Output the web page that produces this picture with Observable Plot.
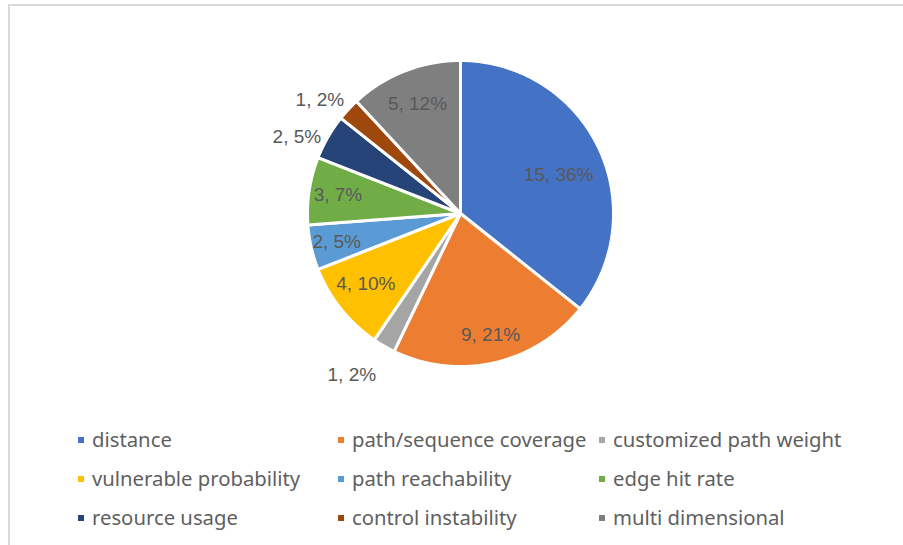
<!DOCTYPE html>
<html>
<head>
<meta charset="utf-8">
<script src="https://cdn.jsdelivr.net/npm/d3@7"></script>
<script src="https://cdn.jsdelivr.net/npm/@observablehq/plot@0.6"></script>
<style>
  html, body { margin: 0; padding: 0; background: #fff; }
  #wrap { position: relative; width: 903px; height: 545px; overflow: hidden; }
  #frame { position: absolute; left: 8px; top: 4px; width: 1000px; height: 1000px;
           border-top: 2px solid #d9d9d9; border-left: 2px solid #d9d9d9; box-sizing: border-box; }
  #chart { position: absolute; left: 0; top: 0; }
  .leg { position: absolute; height: 39px; line-height: 39px; font-family: "Noto Sans", sans-serif;
         font-size: 20.3px; color: #5f5f5f; white-space: nowrap; }
  .leg .sw { position: absolute; width: 6px; height: 6px; top: 17px; }
  .leg .tx { position: absolute; left: 14px; top: 0; }
</style>
</head>
<body>
<div id="wrap">
  <div id="frame"></div>
  <div id="chart"></div>
  <div id="legend"></div>
</div>
<script>
const categories = ["distance", "path/sequence coverage", "customized path weight",
  "vulnerable probability", "path reachability", "edge hit rate",
  "resource usage", "control instability", "multi dimensional"];
const values = [15, 9, 1, 4, 2, 3, 2, 1, 5];
const colors = ["#4472c4", "#ed7d31", "#a5a5a5", "#ffc000", "#5b9bd5", "#70ad47",
  "#264478", "#9e480e", "#7f7f7f"];
// layout: label distance from center (fraction of radius) and angular nudge (degrees)
const labelRadius = [0.69, 0.82, 1.27, 0.77, 0.83, 0.81, 1.18, 1.18, 0.77];
const labelNudge = [4, -1, 4, 2, 0, 0, -5, -4, 0];

const total = d3.sum(values);
const pie = d3.pie().sort(null).value(d => d)(values);

const slicePts = [];
pie.forEach((p, i) => {
  const name = categories[i];
  slicePts.push({name, x: 0, y: 0});
  const n = Math.max(2, Math.ceil((p.endAngle - p.startAngle) / 0.01));
  for (let k = 0; k <= n; k++) {
    const a = p.startAngle + (p.endAngle - p.startAngle) * k / n;
    slicePts.push({name, x: Math.sin(a), y: Math.cos(a)});
  }
  slicePts.push({name, x: 0, y: 0});
});

const labels = pie.map((p, i) => {
  const a = (p.startAngle + p.endAngle) / 2 + labelNudge[i] * Math.PI / 180;
  const r = labelRadius[i];
  return {x: r * Math.sin(a), y: r * Math.cos(a),
          text: `${values[i]}, ${Math.round(values[i] / total * 100)}%`};
});

const cx = 460, cy = 213, R = 153;
const chart = Plot.plot({
  width: 903,
  height: 420,
  margin: 0,
  x: {domain: [-1, 1], range: [cx - R, cx + R], axis: null},
  y: {domain: [-1, 1], range: [cy + R, cy - R], axis: null},
  color: {domain: categories, range: colors},
  style: {background: "transparent"},
  marks: [
    Plot.line(slicePts, {x: "x", y: "y", z: "name", fill: "name", stroke: "white",
      strokeWidth: 3, strokeLinejoin: "miter", curve: "linear"}),
    Plot.text(labels, {x: "x", y: "y", text: "text", fill: "#595959", fontSize: 19,
      fontFamily: "Liberation Sans, Arial, sans-serif", textAnchor: "middle"})
  ]
});
document.getElementById("chart").appendChild(chart);

const legend = document.getElementById("legend");
const colLeft = [78, 338, 599];
categories.forEach((c, i) => {
  const col = i % 3, row = Math.floor(i / 3);
  const d = document.createElement("div");
  d.className = "leg";
  d.style.left = colLeft[col] + "px";
  d.style.top = (420 + row * 39) + "px";
  d.innerHTML = `<span class="sw" style="background:${colors[i]}"></span><span class="tx">${c}</span>`;
  legend.appendChild(d);
});
</script>
</body>
</html>
